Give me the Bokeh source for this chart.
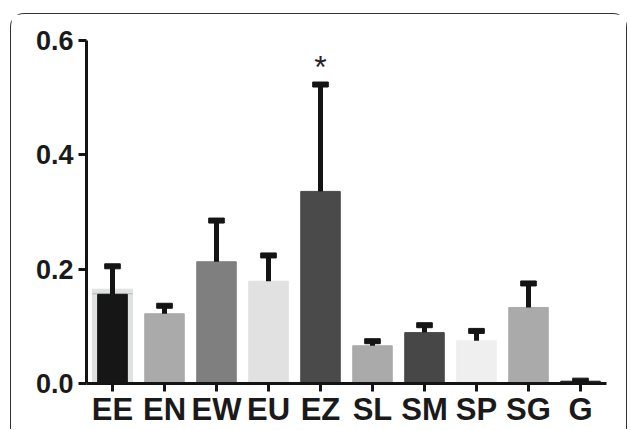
from bokeh.plotting import figure
from bokeh.layouts import column
from bokeh.models import ColumnDataSource, FixedTicker, NumeralTickFormatter, FactorRange, Range1d
from bokeh.embed import file_html
from bokeh.resources import INLINE
from bokeh.core.properties import value

categories = ["EE", "EN", "EW", "EU", "EZ", "SL", "SM", "SP", "SG", "G"]
means = [0.156, 0.122, 0.213, 0.179, 0.336, 0.066, 0.089, 0.075, 0.133, 0.004]
errors_top = [0.205, 0.136, 0.285, 0.224, 0.523, 0.074, 0.102, 0.092, 0.175, 0.005]
colors = ["#161616", "#a9aaa9", "#7f7f7f", "#e0e1e0", "#4a4a4a", "#aaaaaa", "#474747", "#efefef", "#aaaaaa", "#1a1a1a"]
# EE shows an extra lighter, wider bar behind the black one
back_cat = ["EE"]
back_val = [0.165]
back_color = ["#e0e2e1"]
star_cat = ["EZ"]
star_y = [0.553]
star_text = ["*"]
y_ticks = [0.0, 0.2, 0.4, 0.6]

src = ColumnDataSource(dict(x=categories, top=means, err=errors_top, color=colors))

p = figure(width=615, height=415, x_range=FactorRange(*categories, range_padding=0),
           y_range=Range1d(0, 0.6), output_backend="svg", toolbar_location=None,
           min_border_left=75, min_border_top=26, min_border_right=20, min_border_bottom=30,
           margin=0)

p.vbar(x=back_cat, top=back_val, width=0.77, color=back_color)
p.vbar(x="x", top="top", width=0.76, color="color", source=src)
p.vbar(x=categories[:1], top=means[:1], width=0.77, color=back_color)
p.vbar(x=categories[:1], top=means[:1], width=0.57, color=colors[:1])

p.segment(x0="x", y0="top", x1="x", y1="err", line_width=5, line_color="#141414", source=src)
p.rect(x="x", y="err", width=0.3, height=5, height_units="screen", color="#141414", source=src)

p.text(x=star_cat, y=star_y, text=star_text, text_align="center", text_baseline="alphabetic",
       text_font=value("Liberation Sans"), text_font_size="32px", text_color="#222222")

p.xgrid.visible = False
p.ygrid.visible = False
p.outline_line_color = None

for ax in (p.xaxis[0], p.yaxis[0]):
    ax.axis_line_width = 3
    ax.axis_line_color = "#141414"
    ax.major_tick_line_width = 3
    ax.major_tick_line_color = "#141414"
    ax.major_tick_in = 0
    ax.major_tick_out = 8
    ax.minor_tick_line_color = None
    ax.major_label_text_font = "Liberation Sans"
    ax.major_label_text_font_style = "bold"
    ax.major_label_text_color = "#1a1a1a"

p.yaxis.ticker = FixedTicker(ticks=y_ticks)
p.yaxis.formatter = NumeralTickFormatter(format="0.0")
p.yaxis.major_label_text_font_size = "27px"
p.yaxis.major_label_standoff = 5
p.xaxis.major_label_text_font_size = "31px"
p.xaxis.major_label_standoff = 0
p.xaxis.group_text_font_size = "0px"

layout = column(p, margin=(13, 0, 0, 10),
                stylesheets=[":host { border-top: 1.5px solid #333; border-left: 1.5px solid #333; "
                             "border-right: 1.5px solid #333; border-bottom: none; "
                             "border-radius: 14px 14px 0 0; }"])

open("out.html", "w").write(file_html(layout, INLINE))
